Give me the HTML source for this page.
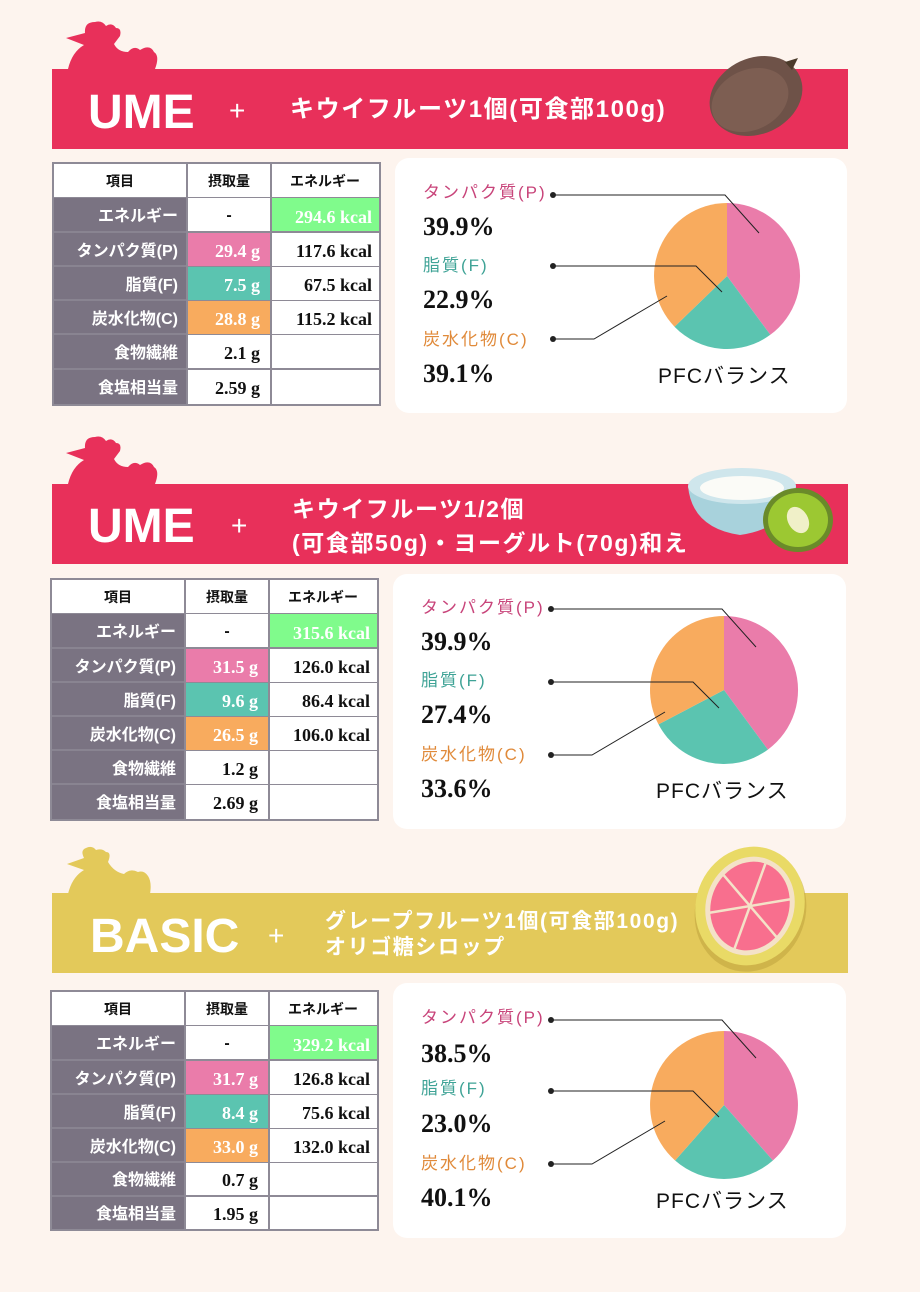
<!DOCTYPE html>
<html><head><meta charset="utf-8"><style>
html,body{margin:0;padding:0;background:#fdf4ee}
svg{display:block}
.j{font-family:"Liberation Sans","Noto Sans CJK JP",sans-serif}
.h{font-family:"Liberation Sans","Noto Sans CJK JP",sans-serif;font-weight:bold;font-size:14px;fill:#111;text-anchor:middle}
.l{font-family:"Liberation Sans","Noto Sans CJK JP",sans-serif;font-weight:bold;font-size:16px;fill:#fff;text-anchor:end}
.n{font-family:"Liberation Serif",serif;font-weight:bold;font-size:18px;text-anchor:end}
.pv{font-family:"Liberation Serif",serif;font-weight:bold;font-size:26px;fill:#111}
.pl{font-family:"Liberation Sans","Noto Sans CJK JP",sans-serif;font-size:17px;letter-spacing:2px}
.big{font-family:"Liberation Sans",sans-serif;font-weight:bold;font-size:48px;fill:#fff}
.t{font-family:"Liberation Sans","Noto Sans CJK JP",sans-serif;font-weight:bold;fill:#fff;letter-spacing:1.6px}
</style></head><body>
<svg width="920" height="1292" viewBox="0 0 920 1292">
<rect width="920" height="1292" fill="#fdf4ee"/>

<!-- ===== Section 1 ===== -->
<path d="M68,69 Q72,52 84,45 L66,38 L85,33 Q84,22 95,22 Q102,20 106,26 Q112,22 116,28 Q122,28 120,36 L114,44 Q118,52 128,52 Q134,45 140,50 Q150,44 154,52 Q160,56 155,69 Z" fill="#e8305a"/>
<rect x="52" y="69" width="796" height="80" fill="#e8305a"/>
<text x="88" y="128" class="big">UME</text>
<text x="229" y="120" class="t" style="font-size:28px;font-weight:normal">+</text>
<text x="290" y="117" class="t" style="font-size:24px">キウイフルーツ1個(可食部100g)</text>
<ellipse cx="756" cy="96" rx="48" ry="38" fill="#6e5248" transform="rotate(-25 756 96)"/>
<ellipse cx="750" cy="100" rx="40" ry="30" fill="#7d5e52" transform="rotate(-25 750 100)"/>
<path d="M785,62 L798,58 L792,70 Z" fill="#4a3a2a"/>

<rect x="52" y="162" width="329" height="244" fill="#8e8a96"/>
<g fill="#7a7382"><rect x="54" y="198" width="132" height="206"/></g>
<g fill="#fff">
<rect x="54" y="164" width="132" height="33"/><rect x="188" y="164" width="82" height="33"/><rect x="272" y="164" width="107" height="33"/>
<rect x="188" y="198" width="82" height="33"/>
<rect x="272" y="233" width="107" height="33"/><rect x="272" y="267" width="107" height="33"/><rect x="272" y="301" width="107" height="33"/>
<rect x="188" y="335" width="82" height="33"/><rect x="272" y="335" width="107" height="33"/>
<rect x="188" y="370" width="82" height="34"/><rect x="272" y="370" width="107" height="34"/>
</g>
<rect x="272" y="198" width="107" height="33" fill="#80fb8c"/>
<rect x="188" y="233" width="82" height="33" fill="#ea7caa"/>
<rect x="188" y="267" width="82" height="33" fill="#5bc4b0"/>
<rect x="188" y="301" width="82" height="33" fill="#f8ab5e"/>
<g stroke="#8e8a96" stroke-width="1.5"><line x1="54" y1="232" x2="186" y2="232"/><line x1="54" y1="266" x2="186" y2="266"/><line x1="54" y1="300" x2="186" y2="300"/><line x1="54" y1="334" x2="186" y2="334"/><line x1="54" y1="369" x2="186" y2="369"/></g>
<text x="120" y="186" class="h">項目</text><text x="229" y="186" class="h">摂取量</text><text x="325" y="186" class="h">エネルギー</text>
<text x="178" y="221" class="l">エネルギー</text><text x="178" y="256" class="l">タンパク質(P)</text><text x="178" y="290" class="l">脂質(F)</text><text x="178" y="324" class="l">炭水化物(C)</text><text x="178" y="358" class="l">食物繊維</text><text x="178" y="393" class="l">食塩相当量</text>
<text x="229" y="220" class="h" style="font-size:16px">-</text>
<text x="260" y="257" class="n" fill="#fff">29.4 g</text><text x="260" y="291" class="n" fill="#fff">7.5 g</text><text x="260" y="325" class="n" fill="#fff">28.8 g</text><text x="260" y="359" class="n" fill="#111">2.1 g</text><text x="260" y="394" class="n" fill="#111">2.59 g</text>
<text x="372" y="223" class="n" fill="#fff">294.6 kcal</text><text x="372" y="257" class="n" fill="#111">117.6 kcal</text><text x="372" y="291" class="n" fill="#111">67.5 kcal</text><text x="372" y="325" class="n" fill="#111">115.2 kcal</text>

<rect x="395" y="158" width="452" height="255" rx="14" fill="#fff"/>
<text x="423" y="198" class="pl" fill="#c8447a">タンパク質(P)</text>
<text x="423" y="235" class="pv">39.9%</text>
<text x="423" y="271" class="pl" fill="#3fa396">脂質(F)</text>
<text x="423" y="308" class="pv">22.9%</text>
<text x="423" y="345" class="pl" fill="#e08a3a">炭水化物(C)</text>
<text x="423" y="382" class="pv">39.1%</text>
<path d="M727,276 L727,203 A73,73 0 0 1 770.3,334.8 Z" fill="#ea7caa"/>
<path d="M727,276 L770.3,334.8 A73,73 0 0 1 674.5,326.7 Z" fill="#5bc4b0"/>
<path d="M727,276 L674.5,326.7 A73,73 0 0 1 727,203 Z" fill="#f8ab5e"/>
<g stroke="#222" stroke-width="1" fill="none"><polyline points="553,195 725,195 759,233"/><polyline points="553,266 696,266 722,292"/><polyline points="553,339 594,339 667,296"/></g>
<g fill="#222"><circle cx="553" cy="195" r="3"/><circle cx="553" cy="266" r="3"/><circle cx="553" cy="339" r="3"/></g>
<text x="658" y="383" class="j" style="font-size:21px;letter-spacing:1px" fill="#111">PFCバランス</text>

<!-- ===== Section 2 ===== -->
<path d="M68,484 Q72,467 84,460 L66,453 L85,448 Q84,437 95,437 Q102,435 106,441 Q112,437 116,443 Q122,443 120,451 L114,459 Q118,467 128,467 Q134,460 140,465 Q150,459 154,467 Q160,471 155,484 Z" fill="#e8305a"/>
<rect x="52" y="484" width="796" height="80" fill="#e8305a"/>
<text x="88" y="542" class="big">UME</text>
<text x="231" y="535" class="t" style="font-size:28px;font-weight:normal">+</text>
<text x="292" y="517" class="t" style="font-size:23px">キウイフルーツ1/2個</text>
<text x="292" y="551" class="t" style="font-size:23px">(可食部50g)・ヨーグルト(70g)和え</text>
<path d="M688,486 Q692,528 740,535 Q790,528 796,486 Z" fill="#a8d2dc"/>
<ellipse cx="742" cy="486" rx="54" ry="18" fill="#cfe6ec"/>
<ellipse cx="742" cy="488" rx="42" ry="12" fill="#fbfbf7"/>
<ellipse cx="798" cy="520" rx="35" ry="32" fill="#6a8a2a"/>
<ellipse cx="798" cy="520" rx="30" ry="27" fill="#9cc832"/>
<ellipse cx="798" cy="520" rx="10" ry="14" fill="#f0f0c8" transform="rotate(-30 798 520)"/>

<rect x="50" y="578" width="329" height="243" fill="#8e8a96"/>
<rect x="52" y="614" width="132" height="205" fill="#7a7382"/>
<g fill="#fff">
<rect x="52" y="580" width="132" height="33"/><rect x="186" y="580" width="82" height="33"/><rect x="270" y="580" width="107" height="33"/>
<rect x="186" y="614" width="82" height="33"/>
<rect x="270" y="649" width="107" height="33"/><rect x="270" y="683" width="107" height="33"/><rect x="270" y="717" width="107" height="33"/>
<rect x="186" y="751" width="82" height="33"/><rect x="270" y="751" width="107" height="33"/>
<rect x="186" y="785" width="82" height="34"/><rect x="270" y="785" width="107" height="34"/>
</g>
<rect x="270" y="614" width="107" height="33" fill="#80fb8c"/>
<rect x="186" y="649" width="82" height="33" fill="#ea7caa"/>
<rect x="186" y="683" width="82" height="33" fill="#5bc4b0"/>
<rect x="186" y="717" width="82" height="33" fill="#f8ab5e"/>
<g stroke="#8e8a96" stroke-width="1.5"><line x1="52" y1="648" x2="184" y2="648"/><line x1="52" y1="682" x2="184" y2="682"/><line x1="52" y1="716" x2="184" y2="716"/><line x1="52" y1="750" x2="184" y2="750"/><line x1="52" y1="784" x2="184" y2="784"/></g>
<text x="118" y="602" class="h">項目</text><text x="227" y="602" class="h">摂取量</text><text x="323" y="602" class="h">エネルギー</text>
<text x="176" y="637" class="l">エネルギー</text><text x="176" y="672" class="l">タンパク質(P)</text><text x="176" y="706" class="l">脂質(F)</text><text x="176" y="740" class="l">炭水化物(C)</text><text x="176" y="774" class="l">食物繊維</text><text x="176" y="808" class="l">食塩相当量</text>
<text x="227" y="636" class="h" style="font-size:16px">-</text>
<text x="258" y="673" class="n" fill="#fff">31.5 g</text><text x="258" y="707" class="n" fill="#fff">9.6 g</text><text x="258" y="741" class="n" fill="#fff">26.5 g</text><text x="258" y="775" class="n" fill="#111">1.2 g</text><text x="258" y="809" class="n" fill="#111">2.69 g</text>
<text x="370" y="639" class="n" fill="#fff">315.6 kcal</text><text x="370" y="673" class="n" fill="#111">126.0 kcal</text><text x="370" y="707" class="n" fill="#111">86.4 kcal</text><text x="370" y="741" class="n" fill="#111">106.0 kcal</text>

<rect x="393" y="574" width="453" height="255" rx="14" fill="#fff"/>
<text x="421" y="613" class="pl" fill="#c8447a">タンパク質(P)</text>
<text x="421" y="650" class="pv">39.9%</text>
<text x="421" y="686" class="pl" fill="#3fa396">脂質(F)</text>
<text x="421" y="723" class="pv">27.4%</text>
<text x="421" y="760" class="pl" fill="#e08a3a">炭水化物(C)</text>
<text x="421" y="797" class="pv">33.6%</text>
<path d="M724,690 L724,616 A74,74 0 0 1 767.9,749.6 Z" fill="#ea7caa"/>
<path d="M724,690 L767.9,749.6 A74,74 0 0 1 658.5,724.4 Z" fill="#5bc4b0"/>
<path d="M724,690 L658.5,724.4 A74,74 0 0 1 724,616 Z" fill="#f8ab5e"/>
<g stroke="#222" stroke-width="1" fill="none"><polyline points="551,609 722,609 756,647"/><polyline points="551,682 693,682 719,708"/><polyline points="551,755 592,755 665,712"/></g>
<g fill="#222"><circle cx="551" cy="609" r="3"/><circle cx="551" cy="682" r="3"/><circle cx="551" cy="755" r="3"/></g>
<text x="656" y="798" class="j" style="font-size:21px;letter-spacing:1px" fill="#111">PFCバランス</text>

<!-- ===== Section 3 ===== -->
<path d="M68,894 Q72,877 84,870 L67,864 L84,858 Q80,850 86,848 Q92,845 96,850 Q102,848 106,852 Q112,852 108,862 Q114,872 124,874 Q130,868 138,872 Q144,870 148,876 Q152,882 150,894 Z" fill="#e3c95a"/>
<rect x="52" y="893" width="796" height="80" fill="#e3c95a"/>
<text x="90" y="952" class="big">BASIC</text>
<text x="268" y="945" class="t" style="font-size:28px;font-weight:normal">+</text>
<text x="325" y="928" class="t" style="font-size:21px">グレープフルーツ1個(可食部100g)</text>
<text x="325" y="954" class="t" style="font-size:21px">オリゴ糖シロップ</text>
<g transform="rotate(20 750 906)">
<ellipse cx="752" cy="910" rx="55" ry="62" fill="#c2a640" opacity="0.6"/>
<ellipse cx="750" cy="906" rx="54" ry="60" fill="#e9da66"/>
<ellipse cx="750" cy="906" rx="44" ry="50" fill="#f4e2c8"/>
<ellipse cx="750" cy="906" rx="39" ry="45" fill="#f86f8e"/>
<g stroke="#f4e2c8" stroke-width="2.5"><line x1="750" y1="861" x2="750" y2="951"/><line x1="711" y1="884" x2="789" y2="928"/><line x1="711" y1="928" x2="789" y2="884"/></g>
</g>

<rect x="50" y="990" width="329" height="241" fill="#8e8a96"/>
<rect x="52" y="1026" width="132" height="203" fill="#7a7382"/>
<g fill="#fff">
<rect x="52" y="992" width="132" height="33"/><rect x="186" y="992" width="82" height="33"/><rect x="270" y="992" width="107" height="33"/>
<rect x="186" y="1026" width="82" height="33"/>
<rect x="270" y="1061" width="107" height="33"/><rect x="270" y="1095" width="107" height="33"/><rect x="270" y="1129" width="107" height="33"/>
<rect x="186" y="1163" width="82" height="32"/><rect x="270" y="1163" width="107" height="32"/>
<rect x="186" y="1197" width="82" height="32"/><rect x="270" y="1197" width="107" height="32"/>
</g>
<rect x="270" y="1026" width="107" height="33" fill="#80fb8c"/>
<rect x="186" y="1061" width="82" height="33" fill="#ea7caa"/>
<rect x="186" y="1095" width="82" height="33" fill="#5bc4b0"/>
<rect x="186" y="1129" width="82" height="33" fill="#f8ab5e"/>
<g stroke="#8e8a96" stroke-width="1.5"><line x1="52" y1="1060" x2="184" y2="1060"/><line x1="52" y1="1094" x2="184" y2="1094"/><line x1="52" y1="1128" x2="184" y2="1128"/><line x1="52" y1="1162" x2="184" y2="1162"/><line x1="52" y1="1196" x2="184" y2="1196"/></g>
<text x="118" y="1014" class="h">項目</text><text x="227" y="1014" class="h">摂取量</text><text x="323" y="1014" class="h">エネルギー</text>
<text x="176" y="1049" class="l">エネルギー</text><text x="176" y="1084" class="l">タンパク質(P)</text><text x="176" y="1118" class="l">脂質(F)</text><text x="176" y="1152" class="l">炭水化物(C)</text><text x="176" y="1185" class="l">食物繊維</text><text x="176" y="1219" class="l">食塩相当量</text>
<text x="227" y="1048" class="h" style="font-size:16px">-</text>
<text x="258" y="1085" class="n" fill="#fff">31.7 g</text><text x="258" y="1119" class="n" fill="#fff">8.4 g</text><text x="258" y="1153" class="n" fill="#fff">33.0 g</text><text x="258" y="1186" class="n" fill="#111">0.7 g</text><text x="258" y="1220" class="n" fill="#111">1.95 g</text>
<text x="370" y="1051" class="n" fill="#fff">329.2 kcal</text><text x="370" y="1085" class="n" fill="#111">126.8 kcal</text><text x="370" y="1119" class="n" fill="#111">75.6 kcal</text><text x="370" y="1153" class="n" fill="#111">132.0 kcal</text>

<rect x="393" y="983" width="453" height="255" rx="14" fill="#fff"/>
<text x="421" y="1023" class="pl" fill="#c8447a">タンパク質(P)</text>
<text x="421" y="1062" class="pv">38.5%</text>
<text x="421" y="1094" class="pl" fill="#3fa396">脂質(F)</text>
<text x="421" y="1132" class="pv">23.0%</text>
<text x="421" y="1169" class="pl" fill="#e08a3a">炭水化物(C)</text>
<text x="421" y="1206" class="pv">40.1%</text>
<path d="M724,1105 L724,1031 A74,74 0 0 1 772.9,1160.5 Z" fill="#ea7caa"/>
<path d="M724,1105 L772.9,1160.5 A74,74 0 0 1 675.1,1160.5 Z" fill="#5bc4b0"/>
<path d="M724,1105 L675.1,1160.5 A74,74 0 0 1 724,1031 Z" fill="#f8ab5e"/>
<g stroke="#222" stroke-width="1" fill="none"><polyline points="551,1020 722,1020 756,1058"/><polyline points="551,1091 693,1091 719,1117"/><polyline points="551,1164 592,1164 665,1121"/></g>
<g fill="#222"><circle cx="551" cy="1020" r="3"/><circle cx="551" cy="1091" r="3"/><circle cx="551" cy="1164" r="3"/></g>
<text x="656" y="1208" class="j" style="font-size:21px;letter-spacing:1px" fill="#111">PFCバランス</text>
</svg>
</body></html>
